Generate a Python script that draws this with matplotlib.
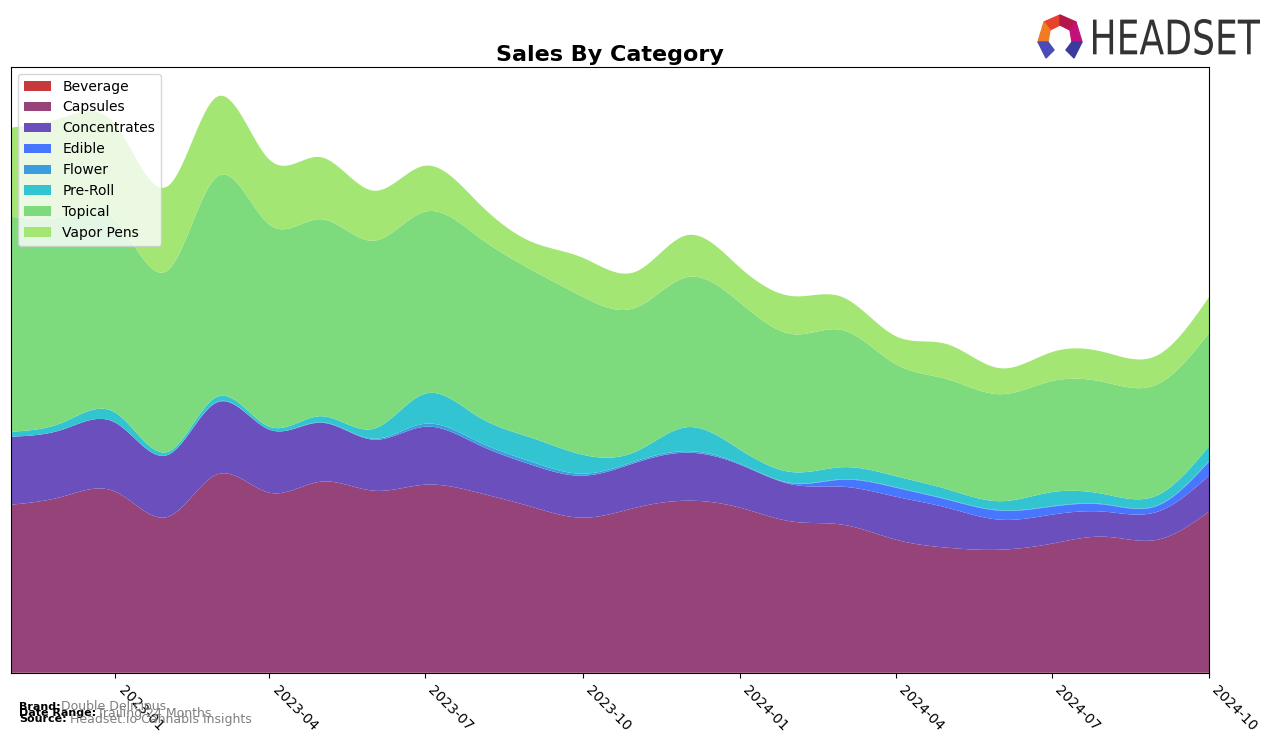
import numpy as np
import pandas as pd
import matplotlib
matplotlib.use("Agg")
import matplotlib.pyplot as plt
import matplotlib.dates as mdates
from matplotlib.patches import Polygon, PathPatch
from matplotlib.textpath import TextPath
from matplotlib.font_manager import FontProperties
from matplotlib.transforms import Affine2D

# monthly values (arbitrary units)
months = pd.date_range("2022-11-01", "2024-10-01", freq="MS")

categories = ["Beverage", "Capsules", "Concentrates", "Edible", "Flower",
              "Pre-Roll", "Topical", "Vapor Pens"]
colors = ["#c8393c", "#954379", "#6a4fbd", "#4876ff", "#3a9de0",
          "#33c4d2", "#7ddb7e", "#a3e673"]

beverage = [0.3] * 24
capsules = [168, 176, 181, 156, 198, 180, 191, 182, 188, 180, 166, 155,
            165, 172, 165, 151, 148, 133, 125, 123, 129, 136, 133, 161]
concentrates = [68, 67, 69, 62, 72, 63, 59, 51, 58, 48, 42, 42,
                45, 48, 43, 37, 38, 43, 40, 30, 29, 25, 28, 36]
edible = [0, 0, 0, 0, 0, 0, 0, 0, 0, 0, 0, 0,
          0, 0, 0, 1, 7, 9, 8, 9, 8, 7, 6, 14]
flower = [0, 0, 0, 0, 0.5, 0, 0.5, 1, 3, 3, 3, 2,
          1.5, 1.5, 1, 0.5, 0.5, 0.5, 0.5, 0.5, 0.5, 0.5, 0.5, 0.5]
preroll = [5, 7, 10, 3, 5, 3, 6, 10, 30, 25, 24, 19,
           9.5, 24, 14, 11, 12, 11, 10, 9, 14, 10, 10, 15]
topical = [215, 206, 193, 182, 220, 202, 197, 188, 182, 180, 168, 158,
           144, 150, 147, 138, 137, 112, 110, 107, 111, 112, 111, 113]
vapor = [89, 99, 95, 84, 80, 65, 62, 50, 46, 34, 28, 39,
         36, 42, 35, 38, 33, 28, 35, 26, 29, 30, 29, 36]

series = [beverage, capsules, concentrates, edible, flower, preroll, topical, vapor]


def spline(x, y, xn):
    # natural cubic spline
    x = np.asarray(x, float)
    y = np.asarray(y, float)
    n = len(x)
    h = np.diff(x)
    A = np.zeros((n, n))
    b = np.zeros(n)
    A[0, 0] = 1
    A[-1, -1] = 1
    for i in range(1, n - 1):
        A[i, i - 1] = h[i - 1]
        A[i, i] = 2 * (h[i - 1] + h[i])
        A[i, i + 1] = h[i]
        b[i] = 6 * ((y[i + 1] - y[i]) / h[i] - (y[i] - y[i - 1]) / h[i - 1])
    M = np.linalg.solve(A, b)
    idx = np.clip(np.searchsorted(x, xn) - 1, 0, n - 2)
    x0, x1 = x[idx], x[idx + 1]
    hh = x1 - x0
    t0 = x1 - xn
    t1 = xn - x0
    return (M[idx] * t0 ** 3 / (6 * hh) + M[idx + 1] * t1 ** 3 / (6 * hh)
            + (y[idx] / hh - M[idx] * hh / 6) * t0
            + (y[idx + 1] / hh - M[idx + 1] * hh / 6) * t1)


xnum = mdates.date2num(months)
xs = np.linspace(xnum[0], xnum[-1], 600)
ys = [np.clip(spline(xnum, s, xs), 0, None) for s in series]

W, H = 1276, 743
fig = plt.figure(figsize=(W / 100, H / 100), dpi=100)
ax = fig.add_axes([11 / W, 1 - 673 / H, 1198 / W, 606 / H])

ax.stackplot(xs, ys, labels=categories, colors=colors)
ax.set_xlim(xnum[0], xnum[-1])
ax.set_ylim(0, 606)
ax.set_yticks([])

ticks = pd.date_range("2023-01-01", "2024-10-01", freq="3MS")
ax.set_xticks(mdates.date2num(ticks))
ax.set_xticklabels([d.strftime("%Y-%m") for d in ticks], rotation=-45,
                   ha="left", va="top", fontsize=10)

ax.set_title("Sales By Category", fontsize=16, fontweight="bold", pad=4)
ax.legend(loc="upper left", fontsize=10, framealpha=0.8)

# footer
fig.text(19 / W, 1 - 707 / H, "Brand:", fontsize=8, fontweight="bold", va="center")
fig.text(61 / W, 1 - 707 / H, "Double Delicious", fontsize=9, color="gray", va="center")
fig.text(19 / W, 1 - 713 / H, "Date Range:", fontsize=8, fontweight="bold", va="center")
fig.text(97 / W, 1 - 713 / H, "Trailing 24 Months", fontsize=9, color="gray", va="center")
fig.text(19 / W, 1 - 719 / H, "Source:", fontsize=8, fontweight="bold", va="center")
fig.text(70 / W, 1 - 719 / H, "Headset.io Cannabis Insights", fontsize=9, color="gray", va="center")

# logo text, squeezed to fit the box of the reference
tp = TextPath((0, 0), "HEADSET", size=40, prop=FontProperties(family="DejaVu Sans"))
bb = tp.get_extents()
x0, x1, ytop, ybot = 1093, 1260, 19, 55
sx = (x1 - x0) / bb.width
sy = (ybot - ytop) / bb.height
tr = (Affine2D().translate(-bb.x0, -bb.y0).scale(sx, sy)
      .translate(x0, H - ybot).scale(1 / W, 1 / H) + fig.transFigure)
fig.patches.append(PathPatch(tp, transform=tr, color="#333333", lw=0, figure=fig))


def px(pts):
    return [(x / W, 1 - y / H) for x, y in pts]


logo_parts = [
    ([(1044, 22), (1060, 15), (1060, 25), (1050, 30)], "#e8412c"),
    ([(1060, 15), (1076, 22), (1070, 30), (1060, 25)], "#b5174d"),
    ([(1076, 22), (1082, 42), (1072, 42), (1070, 30)], "#c2127a"),
    ([(1044, 22), (1050, 30), (1048, 42), (1038, 42)], "#f07b22"),
    ([(1038, 42), (1048, 42), (1054, 50), (1046, 58)], "#4a4ab8"),
    ([(1082, 42), (1072, 42), (1066, 50), (1074, 58)], "#3b3a9e"),
]
for pts, c in logo_parts:
    fig.patches.append(Polygon(px(pts), closed=True, color=c,
                               transform=fig.transFigure, figure=fig))

fig.savefig("out.png", dpi=100)
